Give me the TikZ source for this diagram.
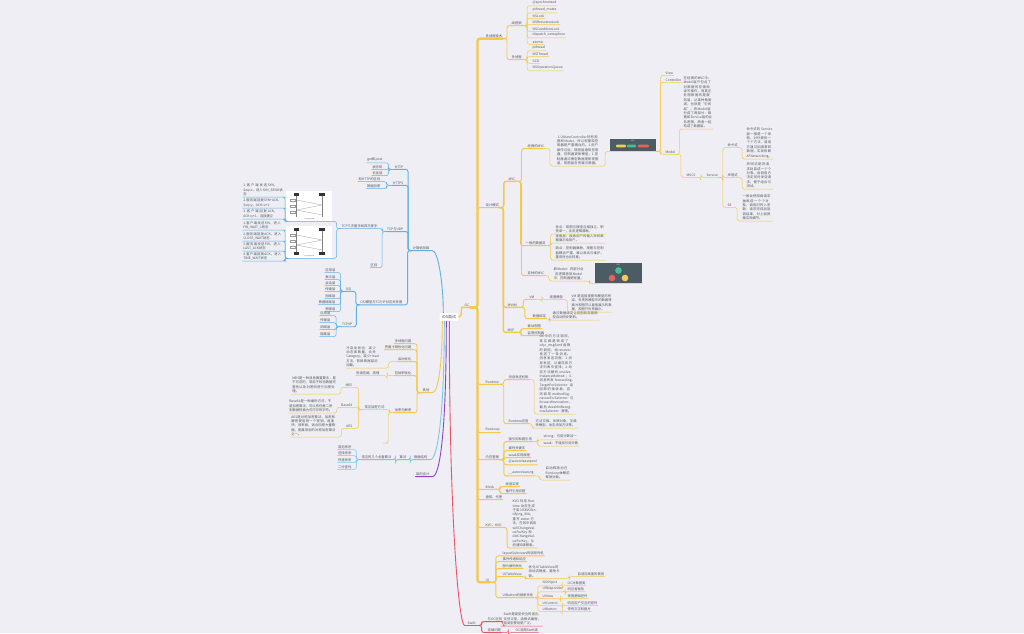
\documentclass[tikz,border=0pt]{standalone}
\usepackage{fontspec}
\newfontfamily\cjk{Noto Sans CJK SC}
\XeTeXlinebreaklocale "zh"
\XeTeXlinebreakskip=0pt plus 1pt
\usetikzlibrary{calc}
\definecolor{bg}{RGB}{238,238,244}
\definecolor{ink}{RGB}{84,84,94}
\definecolor{yel}{RGB}{246,200,72}
\definecolor{blu}{RGB}{96,176,228}
\definecolor{cya}{RGB}{118,204,226}
\definecolor{pur}{RGB}{142,68,190}
\definecolor{red1}{RGB}{234,84,100}
\definecolor{slate}{RGB}{76,92,100}
\definecolor{pilly}{RGB}{240,205,90}
\definecolor{pillg}{RGB}{70,190,150}
\definecolor{pillr}{RGB}{232,96,96}

% parent -> child: elbow with rounded corners, child underlined
\newcommand\cR[3]{\draw[#1] let \p1=(#2.south east), \p2=(#3.south west) in
  (\p1) -- ({0.5*\x1+0.5*\x2},\y1) |- (\p2) -- (#3.south east);}
\newcommand\cL[3]{\draw[#1] let \p1=(#2.south west), \p2=(#3.south east) in
  (\p1) -- ({0.5*\x1+0.5*\x2},\y1) |- (\p2) -- (#3.south west);}

\begin{document}
\begin{tikzpicture}[x=1pt,y=-1pt,
  base/.style={font=\cjk\fontsize{3.3}{4.4}\selectfont,text=ink,inner xsep=0.5pt,inner ysep=0.9pt},
  R/.style={base,anchor=west},
  L/.style={base,anchor=east},
  bR/.style={base,anchor=south west,text width=#1,align=left},
  bL/.style={base,anchor=south east,text width=#1,align=left},
  bC/.style={base,anchor=south west,text width=#1,align=center},
  lnk/.style={rounded corners=2.4pt,line cap=round,line width=#1},
  yeL/.style={draw=yel,lnk=0.5pt}, yeB/.style={draw=yel,lnk=0.9pt},
  yeM/.style={draw=yel,lnk=1.4pt}, yeT/.style={draw=yel,lnk=2.3pt},
  blL/.style={draw=blu,lnk=0.5pt}, blB/.style={draw=blu,lnk=0.9pt},
  cyL/.style={draw=cya,lnk=0.5pt}, cyB/.style={draw=cya,lnk=0.9pt},
  puB/.style={draw=pur,lnk=0.9pt},
  reL/.style={draw=red1,lnk=0.5pt}, reB/.style={draw=red1,lnk=0.9pt},
  shot/.style={anchor=north west,inner sep=0pt},
]
\useasboundingbox (0,0) rectangle (1024,633);
\fill[bg] (0,0) rectangle (1024,633);

% ================= root
\node[base,fill=white,rounded corners=1.5pt,minimum width=19pt,minimum height=8pt,
      font=\cjk\fontsize{4}{5}\selectfont] (root) at (449,317) {iOS面试};

% ================= OC branch (yellow, right)
\node[R] (oc) at (464,305) {OC};
\draw[yeM] (root.east) .. controls +(4,0) and +(-3,0) .. (oc.south west) -- (oc.south east);
\node[R] (t1) at (485,36) {多线程技术};
\node[R] (t2) at (485,205) {设计模式};
\node[R] (t3) at (485,382) {Runtime};
\node[R] (t4) at (485,430) {RunLoop};
\node[R] (t5) at (485,457) {内存管理};
\node[R] (t6) at (485,487) {Block};
\node[R] (t7) at (485,497) {通知、代理};
\node[R] (t8) at (485,525) {KVC、KVO};
\node[R] (t9) at (485,580) {UI};
\cR{yeT}{oc}{t1}
\cR{yeT}{oc}{t9}
\foreach \kk in {t2,t3,t4,t5,t6,t7,t8} {\cR{yeB}{oc}{\kk}}

% threads
\node[R] (lk) at (511,23) {线程锁};
\node[R] (mth) at (511,57) {多线程};
\cR{yeB}{t1}{lk}
\cR{yeB}{t1}{mth}
\foreach \nd/\yy/\tx in {l1/3/@synchronized, l2/10/pthread\_mutex, l3/16/NSLock,
   l4/22/NSRecursiveLock, l5/29/NSConditionLock, l6/35/dispatch\_semaphore, l7/42/atomic}
  {\node[R] (\nd) at (532,\yy) {\tx}; \cR{yeL}{lk}{\nd}}
\foreach \nd/\yy/\tx in {m1/48/pthread, m2/54/NSThread, m3/61/GCD, m4/68/NSOperationQueue}
  {\node[R] (\nd) at (532,\yy) {\tx}; \cR{yeL}{mth}{\nd}}

% design patterns
\node[R] (mvc) at (508,179) {MVC};
\node[R] (mvvm) at (507,305) {MVVM};
\node[R] (mvp) at (507,330) {MVP};
\cR{yeM}{t2}{mvc}
\cR{yeM}{t2}{mvvm}
\cR{yeM}{t2}{mvp}

\node[R] (c1) at (527,146) {经典的MVC};
\node[R] (c2) at (525,243) {一般的数据流};
\node[R] (c3) at (527,273) {变种的MVC};
\cR{yeB}{mvc}{c1}
\cR{yeB}{mvc}{c2}
\cR{yeB}{mvc}{c3}

\node[bC=44pt] (c1t) at (555,166) {1.UIViewController持有视图和Model，所以视图和控制器是严重耦合的。1.用户操作过后，视图层通知控制器，控制器更新模型；1.控制器通过模型数据更新视图层，视图层负责展示数据。};
\node[shot,fill=slate,minimum width=46pt,minimum height=12pt] (im1) at (610,139) {};
\node[font=\cjk\fontsize{1.8}{2}\selectfont,text=white!75!slate,inner sep=0] at (633,141.3) {MVC};
\fill[pilly,rounded corners=1pt] (616,144.6) rectangle (626,147.4);
\fill[pillg,rounded corners=1pt] (627,144.6) rectangle (636,147.4);
\fill[pillr,rounded corners=1pt] (638,144.6) rectangle (649,147.4);
\cR{yeL}{c1}{c1t}
\cR{yeL}{c1t}{im1}

\node[R] (vw) at (665,73) {View};
\node[R] (ctl) at (665,80) {Controller};
\node[R] (mdl) at (665,152) {Model};
\cR{yeL}{im1}{vw}
\cR{yeL}{im1}{ctl}
\cR{yeL}{im1}{mdl}
\node[bR=29pt] (mdt) at (683,129) {在经典的MVC中，Model层只包含了对数据的存储和读写操作，而真正处理数据的是服务层，从某种角度讲，也就是“中间层”。将Model层分成了两部分：数据和Service层的业务逻辑，两者一起构成了数据层。};
\node[R] (mvcs) at (686,175) {MVCS};
\cR{yeL}{mdl}{mdt}
\cR{yeL}{mdl}{mvcs}
\node[R] (svc) at (706,175) {Service};
\cR{yeL}{mvcs}{svc}
\node[R] (cmd) at (727,145) {命令式};
\node[R] (dec) at (727,175) {声明式};
\node[R] (rx) at (727,205) {SE};
\cR{yeL}{svc}{cmd}
\cR{yeL}{svc}{dec}
\cR{yeL}{svc}{rx}
\node[bR=26pt] (cmdt) at (746,159) {命令式的 Service 层一般是一个单例，对外提供一个个方法，调用方通过回调拿到数据，实现依赖 AFNetworking。};
\node[bR=26pt] (dect) at (746,189) {声明式是将请求封装成一个个对象，由调用方决定何时发送请求，便于组合与测试。};
\node[bR=29pt] (rxt) at (742,221) {一般会把网络请求抽象成一个个对象，调用时传入参数，请求完成后回调结果，对上层屏蔽实现细节。};
\cR{yeL}{cmd}{cmdt}
\cR{yeL}{dec}{dect}
\cR{yeL}{rx}{rxt}

\node[bR=49pt] (c2a) at (555,234) {优点：视图与模型互相独立，职责单一，业务逻辑清晰。};
\node[bR=49pt] (c2b) at (555,243) {视图层：接收用户的输入并将数据展示给用户。};
\node[bR=49pt] (c2c) at (555,260) {缺点：控制器臃肿，视图与控制器耦合严重，难以测试与维护，重用性也比较差。};
\cR{yeL}{c2}{c2a}
\cR{yeL}{c2}{c2b}
\cR{yeL}{c2}{c2c}

\node[bC=30pt] (c3t) at (553,281) {胖Model：将部分业务逻辑放到Model中，控制器更轻量。};
\node[shot,fill=slate,minimum width=47pt,minimum height=20pt] (im2) at (595,263) {};
\node[font=\cjk\fontsize{1.8}{2}\selectfont,text=white!75!slate,inner sep=0] at (618.5,265) {MVC};
\fill[pillg] (618.5,270.5) circle (3.3);
\fill[pillr] (612,278) circle (3.3);
\fill[pilly] (625,278) circle (3.3);
\cR{yeL}{c3}{c3t}
\cR{yeL}{c3t}{im2}

\node[R] (vm) at (529,297) {VM};
\node[R] (vmn) at (549,297) {视图模型};
\node[bR=40pt] (vmt) at (571,312) {VM 是连接视图和模型的桥梁，负责将模型中的数据转换为视图可以直接展示的数据，视图只负责展示。};
\node[R] (dbd) at (532,316) {数据绑定};
\node[bR=46pt] (dbt) at (552,320) {通过数据绑定让视图和视图模型自动同步更新。};
\cR{yeB}{mvvm}{vm}
\cR{yeL}{vm}{vmn}
\cR{yeL}{vmn}{vmt}
\cR{yeB}{mvvm}{dbd}
\cR{yeL}{dbd}{dbt}
\node[R] (pv) at (527,326) {被动视图};
\node[R] (sc) at (527,333) {监督控制器};
\cR{yeB}{mvp}{pv}
\cR{yeB}{mvp}{sc}

% runtime
\node[R] (msg) at (508,377) {消息发送机制};
\node[bR=35pt] (msgt) at (539,414) {OC中的方法调用，其实都是转成了objc\_msgSend函数的调用，给receiver发送了一条消息。消息发送流程：1.消息发送，从缓存和方法列表中查找；2.动态方法解析 resolveInstanceMethod:；3.消息转发 forwardingTargetForSelector: 返回新的接收者，否则调用 methodSignatureForSelector: 与 forwardInvocation:，最后 doesNotRecognizeSelector: 报错。};
\node[R] (rtu) at (508,421) {Runtime应用};
\node[bR=42pt] (rtut) at (535,428) {方法交换、关联对象、字典转模型、动态添加方法等。};
\cR{yeB}{t3}{msg}
\cR{yeL}{msg}{msgt}
\cR{yeB}{t3}{rtu}
\cR{yeL}{rtu}{rtut}

% memory
\node[R] (r1) at (508,439) {强引用和弱引用};
\node[R] (r1a) at (543,437) {strong：引用计数加一};
\node[R] (r1b) at (543,443.5) {weak：不增加引用计数};
\node[R] (r2) at (508,448) {属性关键字};
\node[R] (r3) at (508,455) {weak实现原理};
\node[R] (r4) at (508,462) {@autoreleasepool};
\node[R] (r5) at (508,473) {\_\_autoreleasing};
\node[bR=24pt] (r5t) at (545,480) {自动释放池在RunLoop休眠前释放对象。};
\foreach \kk in {r1,r2,r3,r4,r5} {\cR{yeB}{t5}{\kk}}
\cR{yeL}{r1}{r1a}
\cR{yeL}{r1}{r1b}
\cR{yeL}{r5}{r5t}

% block / kvo
\node[R] (b1) at (505,484) {底层实现};
\node[R] (b2) at (505,491) {循环引用问题};
\cR{yeB}{t6}{b1}
\cR{yeB}{t6}{b2}
\node[bR=24pt] (kvt) at (512,548) {KVO 利用 Runtime 动态生成子类 NSKVONotifying\_XXX，重写 setter 方法，在其中调用 willChangeValueForKey 和 didChangeValueForKey，从而通知观察者。};
\cR{yeB}{t8}{kvt}

% UI
\node[R] (u1) at (502,553) {layoutSubviews的调用时机};
\node[R] (u2) at (502,559) {事件传递和响应};
\node[R] (u3) at (502,566) {图片解码优化};
\node[R] (u4) at (502,574) {UITableView};
\node[R] (u5) at (502,595) {UIButton的继承关系};
\foreach \kk in {u1,u2,u3,u4,u5} {\cR{yeB}{t9}{\kk}}
\node[bR=32pt] (u4t) at (528,578.5) {优化UITableView的滑动流畅度，避免卡顿。};
\node[R] (u4s) at (577,574) {自适应高度的使用};
\cR{yeL}{u4}{u4t}
\cR{yeL}{u4t}{u4s}
\foreach \nd/\md/\yy/\tx/\dd in {ua/va/583/NSObject/OC对象基类, ub/vb/589/UIResponder/响应者链条,
   uc/vc/596/UIView/视图基础控件, ud/vd/603/UIControl/响应用户交互的控件, ue/ve/609/UIButton/带有文字和图片}
  {\node[R] (\nd) at (542,\yy) {\tx}; \node[R] (\md) at (567,\yy) {\dd};
   \cR{yeL}{u5}{\nd} \cR{yeL}{\nd}{\md}}

% ================= Swift branch (red)
\node[R] (sw) at (467,623) {Swift};
\draw[reB] ([xshift=10pt]root.south west) .. controls +(0,200) and +(-8,0) .. (sw.south west) -- (sw.south east);
\node[R] (sa) at (487,619) {与OC区别};
\node[bR=38pt] (sat) at (503,626) {Swift是类型安全的语言，支持泛型、函数式编程，值类型使用更广泛。};
\node[R] (sb) at (487,630) {混编问题};
\node[R] (sbt) at (515,630) {OC调用Swift类};
\cR{reB}{sw}{sa}
\cR{reB}{sw}{sb}
\cR{reL}{sa}{sat}
\cR{reL}{sb}{sbt}

% ================= network branch (blue, left)
\node[L] (net) at (430,248) {计算机网络};
\draw[blB] ([xshift=4pt]root.north west) .. controls +(0,-30) and +(8,0) .. (net.south east) -- (net.south west);
\node[L] (http) at (404,167) {HTTP};
\node[L] (https) at (404,183) {HTTPS};
\node[L] (tcp) at (404,229) {TCP与UDP};
\node[L] (osi) at (403,302) {OSI模型与TCP/IP对应关系图};
\foreach \kk in {http,https,tcp,osi} {\cL{blB}{net}{\kk}}
\foreach \nd/\yy/\tx in {h1/160/get和post, h2/167/状态码, h3/173/长连接}
  {\node[L] (\nd) at (383,\yy) {\tx}; \cL{blL}{http}{\nd}}
\foreach \nd/\yy/\tx in {s1/179/和HTTP的区别, s2/186/数据加密}
  {\node[L] (\nd) at (381,\yy) {\tx}; \cL{blL}{https}{\nd}}
\node[L] (hs) at (378,226) {TCP三次握手和四次挥手};
\node[L] (df) at (378,265) {区别};
\cL{blL}{tcp}{hs}
\cL{blL}{tcp}{df}

% handshake sketches
\node[shot,fill=white,minimum width=46pt,minimum height=30pt] (im3) at (286,191) {};
\node[shot,fill=white,minimum width=46pt,minimum height=32pt] (im4) at (286,226) {};
\foreach \tp/\bt in {191/221,226/258}{
  \fill[black!80] (294,\tp+2) rectangle (299,\tp+5);
  \fill[black!80] (319,\tp+2) rectangle (325,\tp+5);
  \draw[black!50,line width=0.2pt] (296.5,\tp+5) -- (296.5,\bt-4) (322,\tp+5) -- (322,\bt-4);
  \draw[black!50,line width=0.2pt] (296.5,\tp+9) -- (322,\tp+14) (322,\tp+14) -- (296.5,\tp+19) (296.5,\tp+19) -- (322,\tp+24);
  \foreach \q in {8,14,20} {\draw[black!40,line width=0.2pt] (290,\tp+\q) rectangle (295,\tp+\q+2);}
  \node[font=\cjk\fontsize{1.3}{1.5}\selectfont,text=black!60,inner sep=0] at (309,\bt-2) {TCP 连接过程示意};
}
\fill[black!80] (294,252) rectangle (299,255);
\fill[black!80] (319,252) rectangle (325,255);
\cL{blL}{hs}{im3}
\cL{blL}{hs}{im4}
% handshake steps
\node[bL=40pt] (k1) at (284,197) {1.客户端发送SYN，Seq=x，进入SYN\_SEND状态};
\node[bL=40pt] (k2) at (284,208) {2.服务端回复SYN+ACK，Seq=y，ACK=x+1};
\node[bL=40pt] (k3) at (284,219) {3.客户端回复ACK，ACK=y+1，连接建立};
\node[bL=40pt] (k4) at (284,230) {1.客户端发送FIN，进入FIN\_WAIT\_1状态};
\node[bL=40pt] (k5) at (284,241) {2.服务端回复ACK，进入CLOSE\_WAIT状态};
\node[bL=40pt] (k6) at (284,251) {3.服务端发送FIN，进入LAST\_ACK状态};
\node[bL=40pt] (k7) at (284,261) {4.客户端回复ACK，进入TIME\_WAIT状态};
\foreach \kk in {k1,k2,k3} {\cL{blL}{im3}{\kk}}
\foreach \kk in {k4,k5,k6,k7} {\cL{blL}{im4}{\kk}}

\node[L] (osa) at (352,289) {OSI};
\node[L] (tip) at (353,324) {TCP/IP};
\cL{blB}{osi}{osa}
\cL{blB}{osi}{tip}
\foreach \nd/\yy/\tx in {o1/270/应用层, o2/277/表示层, o3/283/会话层, o4/289/传输层,
   o5/296/网络层, o6/302/数据链路层, o7/309/物理层}
  {\node[L] (\nd) at (336,\yy) {\tx}; \cL{blL}{osa}{\nd}}
\foreach \nd/\yy/\tx in {p1/313/应用层, p2/320/传输层, p3/327/网络层, p4/334/链路层}
  {\node[L] (\nd) at (331,\yy) {\tx}; \cL{blL}{tip}{\nd}}

% ================= misc branch (yellow, left)
\node[L] (opt) at (430,390) {其他};
\draw[yeB] ([xshift=3pt]root.south west) .. controls +(0,45) and +(8,0) .. (opt.south east) -- (opt.south west);
\node[L] (q1) at (412,341) {多线程问题};
\node[L] (q2) at (412,347) {界面卡顿优化问题};
\node[L] (q3) at (412,359) {启动优化};
\node[L] (q4) at (412,373) {包体积优化};
\node[L] (q5) at (412,410) {加密与解密};
\foreach \kk in {q1,q2,q3,q4,q5} {\cL{yeB}{opt}{\kk}}
\node[bL=33pt] (q3t) at (380,368) {冷启动优化：减少动态库数量，合并Category，减少+load方法，首屏数据延迟加载。};
\node[L] (q4t) at (380,373) {资源压缩、清理};
\cL{yeL}{q3}{q3t}
\cL{yeL}{q4}{q4t}
\node[L] (enc) at (385,407) {常见加密方式};
\cL{yeL}{q5}{enc}
% open end below the encryption node
\coordinate (q5end) at (386,443);
\draw[yeL] let \p1=(q5.south west) in (\p1) -- ({\x1-6pt},\y1) |- (q5end) -- ++(-3,0);
\node[L] (md5) at (353,385) {MD5};
\node[L] (b64) at (353,405) {Base64};
\node[L] (aes) at (353,426) {AES};
\cL{yeL}{enc}{md5}
\cL{yeL}{enc}{b64}
\cL{yeL}{enc}{aes}
\node[bL=44pt] (md5t) at (337,394) {MD5是一种消息摘要算法，是不可逆的，常用于校验数据完整性以及对密码进行加密处理。};
\node[bL=43pt] (b64t) at (333,413) {Base64是一种编码方式，不是加密算法，可以将任意二进制数据转换为可打印的字符。};
\node[bL=45pt] (aest) at (337,437) {AES是对称加密算法，加密和解密使用同一个密钥，速度快、效率高，适合加密大量数据，是最常用的对称加密算法之一。};
\cL{yeL}{md5}{md5t}
\cL{yeL}{b64}{b64t}
\cL{yeL}{aes}{aest}

% ================= algorithm branch (cyan, left)
\node[L] (alg) at (428,457) {数据结构};
\draw[cyB] ([xshift=5pt]root.south west) .. controls +(0,90) and +(10,0) .. (alg.south east) -- (alg.south west);
\node[L] (alg1) at (407,457) {算法};
\node[L] (alg2) at (392,457) {常见的几个必备算法};
\cL{cyB}{alg}{alg1}
\cL{cyB}{alg1}{alg2}
\foreach \nd/\yy/\tx in {a1/447/冒泡排序, a2/453/选择排序, a3/460/快速排序, a4/467/二分查找}
  {\node[L] (\nd) at (352,\yy) {\tx}; \cL{cyL}{alg2}{\nd}}

% ================= architecture (purple, left)
\node[L] (pp) at (430,474) {架构设计};
\draw[puB] ([xshift=7pt]root.south west) .. controls +(0,110) and +(10,0) .. (pp.south east) -- (pp.south west);
\end{tikzpicture}
\end{document}
